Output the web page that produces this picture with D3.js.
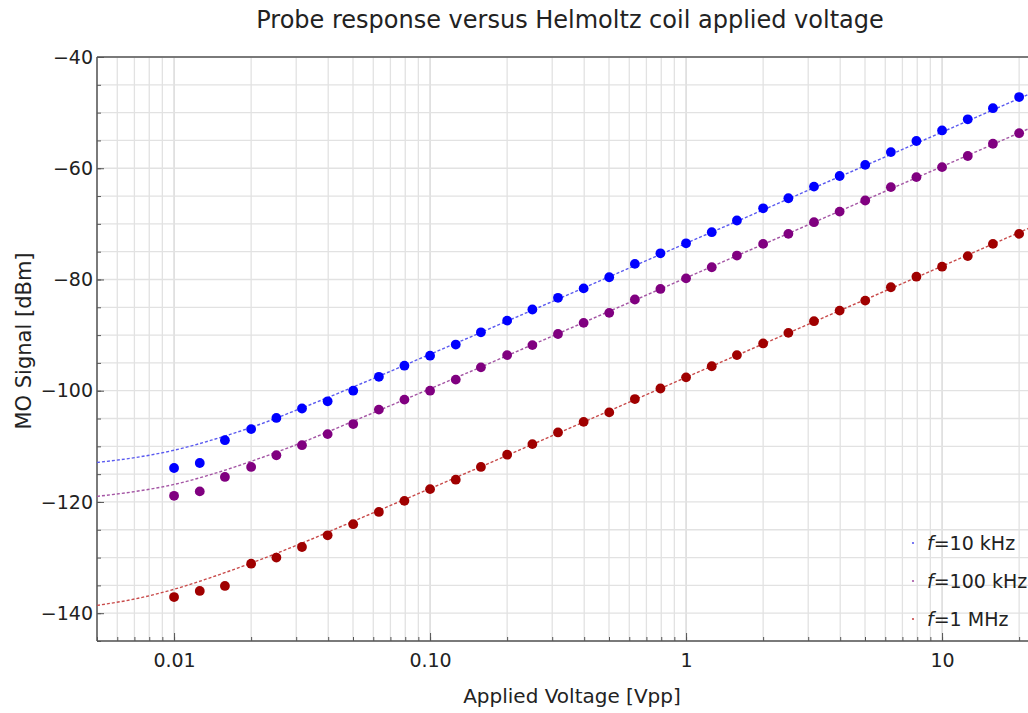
<!DOCTYPE html>
<html>
<head>
<meta charset="utf-8">
<script src="https://cdn.jsdelivr.net/npm/d3@7"></script>
<style>
  body { margin: 0; background: #fff; }
  svg { display: block; font-family: "DejaVu Sans", sans-serif; }
</style>
</head>
<body>
<div id="chart"></div>
<script>
// Applied voltages (Vpp), 10 points per decade
var voltage = [0.01, 0.0126, 0.0158, 0.02, 0.0251, 0.0316, 0.0398, 0.0501, 0.0631, 0.0794,
    0.1, 0.126, 0.158, 0.2, 0.251, 0.316, 0.398, 0.501, 0.631, 0.794,
    1, 1.26, 1.58, 2, 2.51, 3.16, 3.98, 5.01, 6.31, 7.94,
    10, 12.6, 15.8, 20];

// Measured MO signal (dBm)
var signal10k = [-113.9, -113.0, -108.9, -106.9, -104.9, -103.2, -101.9, -100.0, -97.5, -95.5,
    -93.7, -91.7, -89.5, -87.4, -85.4, -83.3, -81.6, -79.6, -77.2, -75.3,
    -73.5, -71.5, -69.4, -67.2, -65.4, -63.3, -61.4, -59.4, -57.1, -55.1,
    -53.2, -51.2, -49.2, -47.2];
var signal100k = [-118.9, -118.1, -115.5, -113.7, -111.6, -109.8, -107.8, -106.0, -103.4, -101.6,
    -100.0, -98.0, -95.8, -93.6, -91.8, -89.8, -87.8, -86.0, -83.6, -81.7,
    -79.8, -77.8, -75.7, -73.6, -71.8, -69.7, -67.8, -65.8, -63.4, -61.6,
    -59.8, -57.8, -55.6, -53.7];
var signal1M = [-137.1, -136.0, -135.1, -131.1, -130.0, -128.1, -126.0, -124.0, -121.8, -119.8,
    -117.7, -116.0, -113.7, -111.5, -109.6, -107.5, -105.6, -103.9, -101.5, -99.6,
    -97.6, -95.6, -93.6, -91.5, -89.6, -87.5, -85.6, -83.8, -81.4, -79.5,
    -77.7, -75.8, -73.6, -71.8];

// Fitted curves
var fitVoltage = [0.005, 0.0071, 0.01, 0.0141, 0.02, 0.0316, 0.05, 0.1, 1, 10, 25];
var fit10k = [-112.9, -112.0, -110.7, -108.85, -106.6, -103.1, -99.35, -93.45, -73.5, -53.5, -45.5];
var fit100k = [-119.0, -118.1, -116.85, -115.0, -112.7, -109.3, -105.5, -99.65, -79.7, -59.7, -51.7];
var fit1M = [-138.6, -137.4, -135.7, -133.5, -131.0, -127.4, -123.5, -117.6, -97.6, -77.6, -69.6];

var seriesNames = ["10 kHz", "100 kHz", "1 MHz"];
var pointColors = ["#0000ff", "#800080", "#a00000"];
var fitColors = ["#5a5af0", "#a455a4", "#c84a4a"];

var yMajor = [-140, -120, -100, -80, -60, -40];
var xMajor = [0.01, 0.1, 1, 10];
var xLabels = ["0.01", "0.10", "1", "10"];

var series = [
    { name: seriesNames[0], values: signal10k, fit: fit10k },
    { name: seriesNames[1], values: signal100k, fit: fit100k },
    { name: seriesNames[2], values: signal1M, fit: fit1M }
];

var W = 1028, H = 713;
var plotLeft = 97, plotTop = 57, plotBottom = 641;

var svg = d3.select("#chart").append("svg")
    .attr("width", W)
    .attr("height", H);

var x = d3.scaleLog().domain([0.005, 25]).range([plotLeft, plotLeft + 256 * Math.log10(25 / 0.005)]);
var y = d3.scaleLinear().domain([-145, -40]).range([plotBottom, plotTop]);
var plotRight = x.range()[1];

svg.append("defs").append("clipPath").attr("id", "plot-clip")
    .append("rect")
    .attr("x", plotLeft).attr("y", plotTop)
    .attr("width", plotRight - plotLeft).attr("height", plotBottom - plotTop);

// Grid
var xGrid = x.ticks().filter(function (d) { return d >= 0.005 && d <= 25; });
svg.append("g").selectAll("line")
    .data(xGrid)
    .enter().append("line")
    .attr("x1", function (d) { return x(d); })
    .attr("x2", function (d) { return x(d); })
    .attr("y1", plotTop).attr("y2", plotBottom)
    .style("stroke", function (d) { return xMajor.indexOf(d) >= 0 ? "#d4d4d4" : "#e2e2e2"; })
    .style("stroke-width", "1.3px");

svg.append("g").selectAll("line")
    .data(d3.range(-145, -39, 5))
    .enter().append("line")
    .attr("x1", plotLeft).attr("x2", plotRight)
    .attr("y1", function (d) { return y(d); })
    .attr("y2", function (d) { return y(d); })
    .style("stroke", "#e2e2e2")
    .style("stroke-width", "1.3px");

// Axes
var axisColor = "#555";

var yMinor = svg.append("g")
    .attr("transform", "translate(" + plotLeft + ",0)")
    .call(d3.axisLeft(y).tickValues(d3.range(-145, -39, 5)).tickSize(-4).tickFormat(""));
var yAxis = svg.append("g")
    .attr("transform", "translate(" + plotLeft + ",0)")
    .call(d3.axisLeft(y).tickValues(yMajor).tickSize(-7).tickPadding(4)
        .tickFormat(function (d) { return "\u2212" + Math.abs(d); }));

var xMinor = svg.append("g")
    .attr("transform", "translate(0," + plotBottom + ")")
    .call(d3.axisBottom(x).tickValues(xGrid).tickSize(-4).tickFormat(""));
var xAxis = svg.append("g")
    .attr("transform", "translate(0," + plotBottom + ")")
    .call(d3.axisBottom(x).tickValues(xMajor).tickSize(-8).tickPadding(13)
        .tickFormat(function (d, i) { return xLabels[i]; }));

[yMinor, yAxis, xMinor, xAxis].forEach(function (g) {
    g.selectAll("path").remove();
    g.selectAll("line").style("stroke", axisColor).style("stroke-width", "1px");
    g.selectAll("text").style("font-size", "19px").style("fill", "#222")
        .style("font-family", "'DejaVu Sans', sans-serif");
});

// Frame lines
svg.append("line").attr("x1", plotLeft).attr("x2", plotRight).attr("y1", plotBottom).attr("y2", plotBottom)
    .style("stroke", axisColor).style("stroke-width", "1.5px");
svg.append("line").attr("x1", plotLeft).attr("x2", plotRight).attr("y1", plotTop).attr("y2", plotTop)
    .style("stroke", axisColor).style("stroke-width", "1.5px");
svg.append("line").attr("x1", plotLeft).attr("x2", plotLeft).attr("y1", plotTop).attr("y2", plotBottom)
    .style("stroke", axisColor).style("stroke-width", "1.5px");

var plot = svg.append("g").attr("clip-path", "url(#plot-clip)");

// Fit lines
var fitLine = d3.line()
    .x(function (d) { return x(d[0]); })
    .y(function (d) { return y(d[1]); })
    .curve(d3.curveMonotoneX);

series.forEach(function (s, i) {
    plot.append("path")
        .datum(fitVoltage.map(function (v, j) { return [v, s.fit[j]]; }))
        .attr("d", fitLine)
        .style("fill", "none")
        .style("stroke", fitColors[i])
        .style("stroke-width", "1.4px")
        .style("stroke-dasharray", "3,2");
});

// Data points
series.forEach(function (s, i) {
    plot.append("g").selectAll("circle")
        .data(voltage.map(function (v, j) { return [v, s.values[j]]; }))
        .enter().append("circle")
        .attr("cx", function (d) { return x(d[0]); })
        .attr("cy", function (d) { return y(d[1]); })
        .attr("r", 4.9)
        .style("fill", pointColors[i]);
});

// Legend
var legend = svg.append("g")
    .selectAll("g")
    .data(series)
    .enter().append("g")
    .attr("transform", function (d, i) { return "translate(913," + (543 + i * 38) + ")"; });

legend.append("circle")
    .attr("r", 1.1)
    .style("fill", function (d, i) { return fitColors[i]; });

var legendText = legend.append("text")
    .attr("x", 14)
    .attr("y", 7)
    .style("font-size", "19px")
    .style("fill", "#222");
legendText.append("tspan").style("font-style", "italic").text("f");
legendText.append("tspan").text(function (d) { return "=" + d.name; });

// Title and axis labels
svg.append("text")
    .attr("x", 570)
    .attr("y", 28)
    .attr("text-anchor", "middle")
    .style("font-size", "24px")
    .style("fill", "#222")
    .text("Probe response versus Helmoltz coil applied voltage");

svg.append("text")
    .attr("x", 572)
    .attr("y", 703)
    .attr("text-anchor", "middle")
    .style("font-size", "20px")
    .style("fill", "#222")
    .text("Applied Voltage [Vpp]");

svg.append("text")
    .attr("transform", "translate(31,341) rotate(-90)")
    .attr("text-anchor", "middle")
    .style("font-size", "21px")
    .style("fill", "#222")
    .text("MO Signal [dBm]");
</script>
</body>
</html>
